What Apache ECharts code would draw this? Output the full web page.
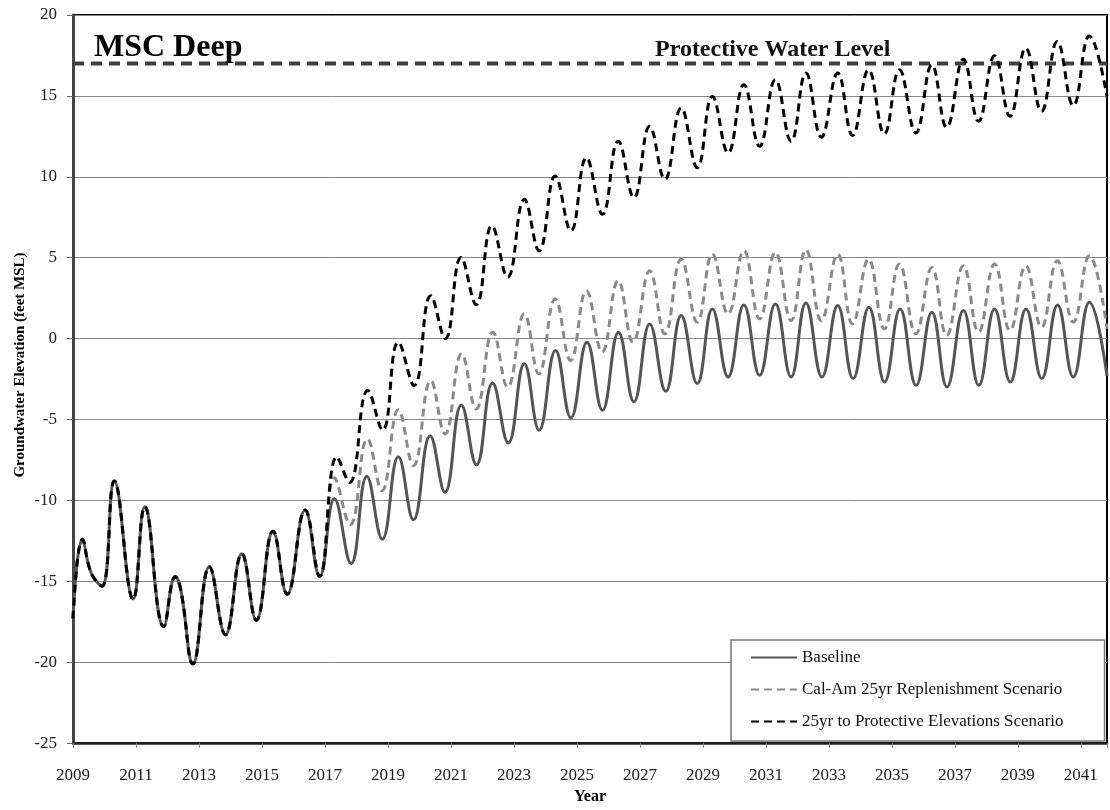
<!DOCTYPE html>
<html>
<head>
<meta charset="utf-8">
<script src="https://cdn.jsdelivr.net/npm/echarts@6/dist/echarts.min.js"></script>
<style>
  html, body { margin: 0; padding: 0; background: #fff; }
  #chart { width: 1110px; height: 810px; }
</style>
</head>
<body>
<div id="chart"></div>
<script>
// Groundwater elevation, MSC Deep well (decimal year, feet MSL).
// Shared record before the scenarios split.
const history = [
  [2009.00, -17.3], [2009.30, -12.4], [2009.58, -14.5], [2009.92, -15.3],
  [2010.31, -8.8], [2010.91, -16.1], [2011.28, -10.4], [2011.88, -17.8],
  [2012.25, -14.7], [2012.42, -15.5], [2012.81, -20.1], [2013.33, -14.1],
  [2013.84, -18.3], [2014.36, -13.3], [2014.82, -17.4], [2015.35, -11.9],
  [2015.80, -15.8], [2016.37, -10.6], [2016.83, -14.7]
];

const baseline = [
  [2017.30, -9.9], [2017.83, -13.9], [2018.33, -8.5], [2018.82, -12.4],
  [2019.33, -7.3], [2019.81, -11.2], [2020.34, -6.0], [2020.81, -9.5],
  [2021.33, -4.1], [2021.81, -7.8], [2022.32, -2.75], [2022.82, -6.45],
  [2023.33, -1.55], [2023.80, -5.66], [2024.32, -0.73], [2024.81, -4.9],
  [2025.32, -0.22], [2025.81, -4.43], [2026.32, 0.40], [2026.81, -3.91],
  [2027.31, 0.91], [2027.82, -3.26], [2028.31, 1.42], [2028.82, -2.78],
  [2029.30, 1.83], [2029.80, -2.37], [2030.30, 2.08], [2030.80, -2.27],
  [2031.30, 2.14], [2031.80, -2.37], [2032.27, 2.2], [2032.78, -2.37],
  [2033.28, 2.04], [2033.77, -2.47], [2034.27, 1.94], [2034.77, -2.68],
  [2035.26, 1.83], [2035.77, -2.89], [2036.27, 1.63], [2036.75, -2.99],
  [2037.27, 1.73], [2037.76, -2.89], [2038.26, 1.83], [2038.76, -2.68],
  [2039.26, 1.83], [2039.76, -2.47], [2040.26, 2.08], [2040.76, -2.37],
  [2041.27, 2.25], [2041.83, -2.3]
];

const calAmReplenishment = [
  [2017.30, -8.6], [2017.80, -11.5], [2018.35, -6.2], [2018.81, -9.4],
  [2019.33, -4.4], [2019.81, -7.85], [2020.36, -2.6], [2020.81, -5.9],
  [2021.34, -0.94], [2021.80, -4.35], [2022.33, 0.4], [2022.80, -3.0],
  [2023.33, 1.53], [2023.79, -2.17], [2024.31, 2.45], [2024.80, -1.35],
  [2025.30, 2.96], [2025.80, -0.83], [2026.31, 3.58], [2026.78, -0.22],
  [2027.31, 4.19], [2027.79, 0.30], [2028.31, 4.91], [2028.82, 1.02],
  [2029.30, 5.22], [2029.80, 1.53], [2030.30, 5.43], [2030.80, 1.22],
  [2031.30, 5.33], [2031.80, 1.11], [2032.27, 5.49], [2032.76, 1.11],
  [2033.28, 5.22], [2033.75, 0.91], [2034.26, 4.91], [2034.76, 0.60],
  [2035.24, 4.61], [2035.76, 0.30], [2036.27, 4.40], [2036.74, 0.2],
  [2037.27, 4.5], [2037.75, 0.4], [2038.26, 4.61], [2038.75, 0.5],
  [2039.25, 4.5], [2039.75, 0.71], [2040.25, 4.81], [2040.76, 1.02],
  [2041.27, 5.12], [2041.83, 0.6]
];

const protectiveScenario = [
  [2017.38, -7.3], [2017.78, -8.9], [2018.36, -3.2], [2018.83, -5.66],
  [2019.33, -0.22], [2019.83, -2.9], [2020.36, 2.65], [2020.82, 0.0],
  [2021.32, 5.02], [2021.80, 2.1], [2022.30, 6.97], [2022.80, 3.79],
  [2023.33, 8.61], [2023.80, 5.43], [2024.31, 10.05], [2024.81, 6.66],
  [2025.30, 11.18], [2025.81, 7.68], [2026.31, 12.2], [2026.81, 8.71],
  [2027.31, 13.12], [2027.79, 9.84], [2028.31, 14.25], [2028.82, 10.56],
  [2029.30, 14.97], [2029.80, 11.48], [2030.30, 15.69], [2030.80, 11.89],
  [2031.30, 16.0], [2031.80, 12.2], [2032.27, 16.41], [2032.76, 12.45],
  [2033.28, 16.41], [2033.75, 12.55], [2034.26, 16.61], [2034.76, 12.65],
  [2035.24, 16.61], [2035.76, 12.71], [2036.27, 16.92], [2036.74, 13.06],
  [2037.27, 17.27], [2037.75, 13.43], [2038.26, 17.48], [2038.75, 13.74],
  [2039.25, 17.95], [2039.75, 14.05], [2040.25, 18.36], [2040.76, 14.4],
  [2041.27, 18.7], [2041.83, 14.97]
];

const protectiveLevel = 17;
const seriesNames = [
  'Baseline',
  'Cal-Am 25yr Replenishment Scenario',
  '25yr to Protective Elevations Scenario'
];
const yearRange = [2009, 2041.83];
const yearStep = 2;
const elevationRange = [-25, 20];
const elevationStep = 5;

const serif = "'Liberation Serif', 'DejaVu Serif', serif";

const chart = echarts.init(document.getElementById('chart'), null, { renderer: 'canvas' });

function lineSeries(name, data, color, type, z) {
  return {
    name: name,
    type: 'line',
    data: data,
    smooth: 0.45,
    symbol: 'none',
    z: z,
    lineStyle: { color: color, width: 3, type: type },
    itemStyle: { color: color },
    emphasis: { disabled: true }
  };
}

chart.setOption({
  animation: false,
  backgroundColor: '#ffffff',
  title: [
    {
      text: 'MSC Deep', left: 89, top: 27,
      textStyle: { fontFamily: serif, fontWeight: 'bold', fontSize: 32, color: '#000' }
    },
    {
      text: 'Protective Water Level', left: 650, top: 33,
      textStyle: { fontFamily: serif, fontWeight: 'bold', fontSize: 24, color: '#111' }
    }
  ],
  grid: {
    left: 73, right: 2, top: 15, bottom: 64,
    show: true, borderColor: '#000', borderWidth: 2, backgroundColor: '#fff'
  },
  legend: {
    data: seriesNames,
    orient: 'vertical',
    left: 731, top: 640,
    itemWidth: 46, itemHeight: 14,
    itemGap: 15,
    padding: [9, 41, 11, 19],
    backgroundColor: '#fff',
    borderColor: '#777',
    borderWidth: 1.5,
    itemStyle: { opacity: 0 },
    textStyle: { fontFamily: serif, fontSize: 17, color: '#111' }
  },
  xAxis: {
    type: 'value',
    min: yearRange[0], max: yearRange[1], interval: yearStep,
    name: 'Year', nameLocation: 'middle', nameGap: 43,
    nameTextStyle: { fontFamily: serif, fontWeight: 'bold', fontSize: 16, color: '#000' },
    axisLine: { show: true, onZero: false, lineStyle: { color: '#222', width: 2.5 } },
    axisTick: { show: true, length: 5, lineStyle: { color: '#888' } },
    axisLabel: {
      margin: 24, fontFamily: serif, fontSize: 17, color: '#222',
      formatter: v => (Math.abs(v - Math.round(v)) < 1e-6 ? String(Math.round(v)) : '')
    },
    splitLine: { show: false }
  },
  yAxis: {
    type: 'value',
    min: elevationRange[0], max: elevationRange[1], interval: elevationStep,
    axisLine: { show: true, onZero: false, lineStyle: { color: '#444', width: 3 } },
    axisTick: { show: true, length: 6, lineStyle: { color: '#666' } },
    axisLabel: { margin: 16, fontFamily: serif, fontSize: 17, color: '#222' },
    splitLine: { show: true, lineStyle: { color: '#888', width: 1 } }
  },
  graphic: [
    {
      type: 'text',
      x: 20, y: 365, rotation: Math.PI / 2,
      style: {
        text: 'Groundwater Elevation (feet MSL)',
        fontFamily: serif, fontWeight: 'bold', fontSize: 15, fill: '#000',
        textAlign: 'center', textVerticalAlign: 'middle'
      }
    }
  ],
  series: [
    {
      name: 'Protective Water Level',
      type: 'line',
      data: [[yearRange[0], protectiveLevel], [yearRange[1], protectiveLevel]],
      symbol: 'none',
      z: 1,
      silent: true,
      lineStyle: { color: '#404040', width: 4, type: [11, 7] },
      emphasis: { disabled: true }
    },
    lineSeries(seriesNames[0], history.concat(baseline), '#555555', 'solid', 2),
    lineSeries(seriesNames[1], history.concat(calAmReplenishment), '#8a8a8a', [8, 5], 3),
    lineSeries(seriesNames[2], history.concat(protectiveScenario), '#000000', [8, 5], 4)
  ]
});
</script>
</body>
</html>
